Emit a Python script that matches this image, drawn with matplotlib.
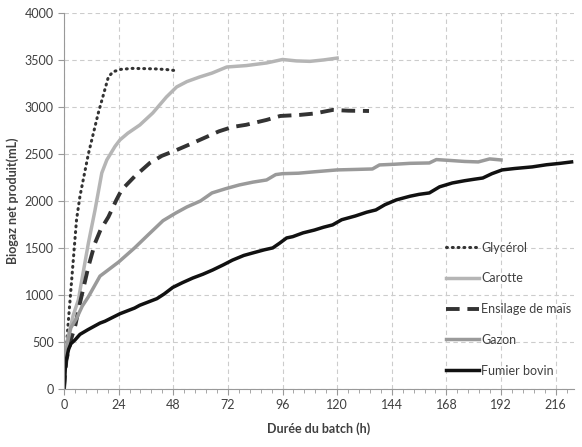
import matplotlib

matplotlib.use("Agg")
import matplotlib.pyplot as plt
from matplotlib.ticker import MultipleLocator, AutoMinorLocator

plt.rcParams["font.family"] = ["Lato", "DejaVu Sans"]

# courbes (heures, mL)
glycerol_t = [0, 0.5, 1.2, 2, 3, 4, 5.5, 7, 10.7, 15, 19.5, 21.6, 25, 30, 35, 40, 45, 49.5]
glycerol_v = [0, 300, 500, 750, 1050, 1350, 1800, 2050, 2500, 2930, 3320, 3375, 3400, 3410,
              3408, 3405, 3398, 3385]

carotte_t = [0, 0.5, 1.5, 4, 6.3, 8.5, 10.7, 13.6, 16.6, 18.8, 22.4, 24.6, 28, 33.3, 39, 45,
             49.5, 54, 59.6, 65, 71.5, 80, 89, 96, 102, 108, 114, 120]
carotte_v = [0, 280, 520, 780, 947, 1250, 1550, 1900, 2298, 2436, 2580, 2650, 2720, 2808, 2936,
             3106, 3213, 3270, 3319, 3360, 3425, 3440, 3468, 3505, 3490, 3485, 3500, 3520]

ensilage_t = [0, 1, 3, 5, 7, 10.7, 13.6, 16, 19.5, 23, 25.3, 31, 37.7, 43, 49.5, 56, 62.6, 68,
              74, 80, 89, 95, 103.5, 110, 118, 125, 134]
ensilage_v = [0, 300, 520, 680, 913, 1300, 1550, 1690, 1830, 2010, 2117, 2260, 2404, 2480, 2542,
              2610, 2681, 2740, 2787, 2810, 2862, 2904, 2915, 2930, 2968, 2960, 2957]

gazon_t = [0, 0.5, 1.5, 3, 5.6, 8, 10.7, 15.8, 18, 24, 31, 37, 43.5, 49, 54, 60, 65, 71, 77, 83,
           89, 93, 96, 103, 110, 120, 128, 135.5, 138.6, 145, 152, 160.5, 163.6, 170, 176, 182,
           187, 192]
gazon_v = [0, 250, 490, 650, 755, 880, 980, 1200, 1240, 1350, 1500, 1640, 1790, 1870, 1936, 2000,
           2085, 2130, 2170, 2200, 2223, 2280, 2290, 2295, 2310, 2330, 2335, 2340, 2383, 2390,
           2400, 2404, 2440, 2430, 2420, 2415, 2447, 2436]

fumier_t = [0, 0.5, 1, 2, 3, 4.8, 7, 10.5, 15.8, 18, 24.6, 31, 33.3, 40.8, 44, 47.8, 52, 56.6,
            61, 65.3, 70, 74, 79, 83, 88, 91.7, 94.7, 97.8, 100.5, 105, 110, 114, 118, 122, 128,
            133, 137, 141, 146, 152, 156, 160.5, 165, 170.6, 176, 180, 184, 188, 192.5, 198,
            205.7, 212, 218, 223]
fumier_v = [0, 200, 310, 420, 480, 520, 580, 630, 700, 720, 800, 860, 890, 960, 1010, 1080, 1130,
            1180, 1220, 1265, 1320, 1370, 1420, 1447, 1480, 1500, 1550, 1606, 1620, 1660, 1690,
            1720, 1745, 1800, 1840, 1880, 1904, 1960, 2011, 2050, 2070, 2085, 2150, 2191, 2215,
            2230, 2244, 2290, 2330, 2345, 2362, 2385, 2400, 2415]

x_ticks = [0, 24, 48, 72, 96, 120, 144, 168, 192, 216]

fig = plt.figure(figsize=(5.82, 4.47), dpi=100)
ax = fig.add_axes([0.110, 0.130, 0.876, 0.841])

ax.plot(glycerol_t, glycerol_v, color="#333333", lw=2.2, linestyle=(0, (0.3, 1.6)),
        dash_capstyle="round", label="Glycérol")
ax.plot(carotte_t, carotte_v, color="#b5b5b5", lw=2.5, label="Carotte")
ax.plot(ensilage_t, ensilage_v, color="#333333", lw=2.8, linestyle=(0, (3.5, 2)),
        label="Ensilage de maïs")
ax.plot(gazon_t, gazon_v, color="#9a9a9a", lw=2.5, label="Gazon")
ax.plot(fumier_t, fumier_v, color="#111111", lw=2.5, label="Fumier bovin")

ax.set_xlim(0, 224)
ax.set_ylim(0, 4000)
ax.set_xticks(x_ticks)
ax.xaxis.set_minor_locator(AutoMinorLocator(5))
ax.yaxis.set_major_locator(MultipleLocator(500))

ax.grid(True, which="major", linestyle=(0, (4, 3)), color="#cccccc", lw=0.8)
ax.set_axisbelow(True)
for side in ("top", "right"):
    ax.spines[side].set_visible(False)
for side in ("left", "bottom"):
    ax.spines[side].set_color("#999999")

ax.tick_params(axis="both", which="major", labelsize=9, colors="#999999",
               labelcolor="#404040", length=4, direction="out")
ax.tick_params(axis="x", which="minor", colors="#999999", length=3, direction="out")

ax.set_xlabel("Durée du batch (h)", fontsize=9, fontweight="bold", color="#404040", labelpad=8)
ax.set_ylabel("Biogaz net produit(mL)", fontsize=9, fontweight="bold", color="#404040",
              labelpad=4)

leg = ax.legend(loc="lower left", bbox_to_anchor=(0.728, 0.003), frameon=False, fontsize=9,
                handlelength=2.6, handletextpad=0.2, labelspacing=1.5)
for txt in leg.get_texts():
    txt.set_color("#404040")

fig.savefig("out.png", dpi=100)
plt.close(fig)
